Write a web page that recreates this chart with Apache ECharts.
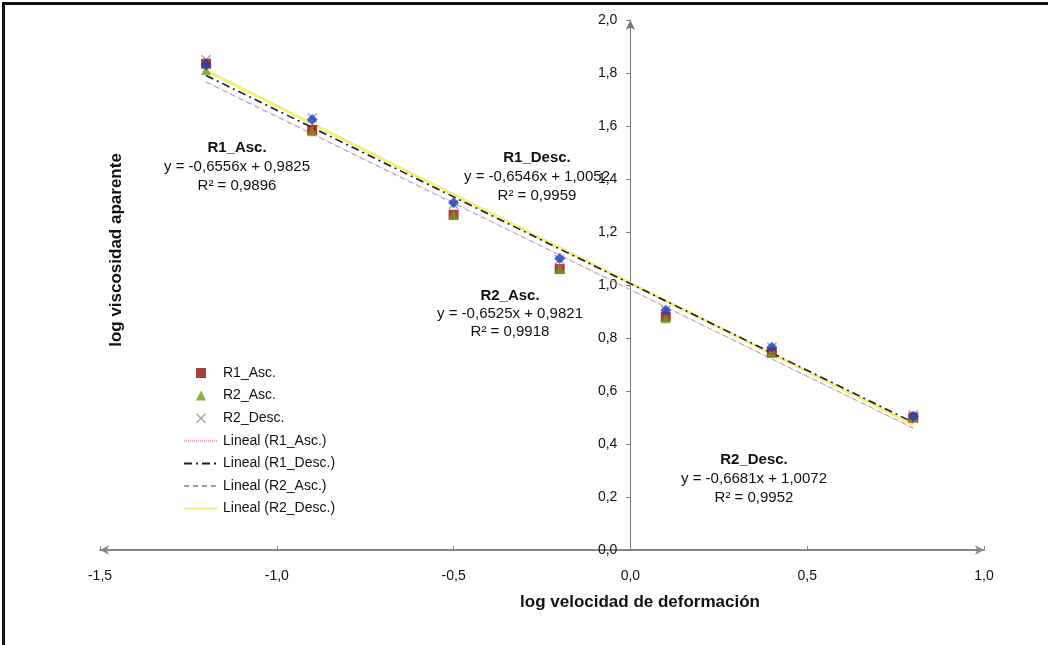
<!DOCTYPE html>
<html>
<head>
<meta charset="utf-8">
<script src="https://cdn.jsdelivr.net/npm/echarts@6/dist/echarts.min.js"></script>
<style>
html,body{margin:0;padding:0;background:#fff;}
#frame{position:absolute;left:2px;top:2px;width:1100px;height:700px;border:3px solid #111;box-sizing:border-box;}
#chart{position:absolute;left:0;top:0;width:1048px;height:645px;}
</style>
</head>
<body>
<div id="chart"></div>
<div id="frame"></div>
<script>
// ---- data ----
const xVals = [-1.2, -0.9, -0.5, -0.2, 0.1, 0.4, 0.8];
const r1Asc  = [1.835, 1.585, 1.265, 1.06, 0.88, 0.745, 0.50];
const r2Asc  = [1.81, 1.58, 1.265, 1.06, 0.875, 0.745, 0.50];
const r1Desc = [1.83, 1.625, 1.31, 1.10, 0.905, 0.765, 0.505];
const r2Desc = [1.85, 1.63, 1.305, 1.095, 0.905, 0.765, 0.51];
// trend line endpoints (from the displayed equations, at x=-1.2 and x=0.8)
const trendX = [-1.2, 0.8];
const trendR1Asc  = [1.7692, 0.4580];
const trendR1Desc = [1.7907, 0.4815];
const trendR2Asc  = [1.7651, 0.4601];
const trendR2Desc = [1.8089, 0.4727];
const xRange = [-1.5, 1.0];
const yRange = [0, 2.0];
const xStep = 0.5;
const yStep = 0.2;

const pairs = (xs, ys) => xs.map((x, i) => [x, ys[i]]);
const fmt = v => v.toFixed(1).replace('.', ',');
const FONT = '"Liberation Sans", Arial, sans-serif';
const XSYM = 'path://M0,1L1,0L5,4L9,0L10,1L6,5L10,9L9,10L5,6L1,10L0,9L4,5Z';
const SQ = 'path://M0,0L10,0L10,10L0,10Z';
const TRI = 'path://M5,0L10,10L0,10Z';

const GL = 100, GR = 64, GT = 20, GB = 95, W = 1048;
const zeroX = GL + (W - GL - GR) * (0 - xRange[0]) / (xRange[1] - xRange[0]);

const chart = echarts.init(document.getElementById('chart'));
const noLine = {opacity: 0};
chart.setOption({
  animation: false,
  backgroundColor: '#fff',
  textStyle: {fontFamily: FONT},
  grid: [
    {left: GL, right: GR, top: GT, bottom: GB, containLabel: false},
    {left: zeroX, width: 1, top: GT, bottom: GB, containLabel: false}
  ],
  xAxis: [{
    type: 'value', gridIndex: 0, min: xRange[0], max: xRange[1], interval: xStep,
    axisLine: {show: true, onZero: false, symbol: ['arrow', 'arrow'], symbolSize: [7, 9],
      lineStyle: {color: '#888', width: 2}},
    axisTick: {show: true, inside: true, length: 4, lineStyle: {color: '#888'}},
    splitLine: {show: false},
    axisLabel: {color: '#111', fontSize: 14, margin: 19, fontFamily: FONT, formatter: v => fmt(v)}
  }, {
    type: 'value', gridIndex: 1, min: 0, max: 1, show: false
  }],
  yAxis: [{
    type: 'value', gridIndex: 0, min: yRange[0], max: yRange[1], interval: yStep, show: false
  }, {
    type: 'value', gridIndex: 1, min: yRange[0], max: yRange[1], interval: yStep, position: 'left',
    axisLine: {show: true, onZero: false, symbol: ['none', 'arrow'], symbolSize: [7, 10],
      lineStyle: {color: '#777', width: 1}},
    axisTick: {show: true, length: 4, lineStyle: {color: '#777'}},
    splitLine: {show: false},
    axisLabel: {color: '#111', fontSize: 14, margin: 13, fontFamily: FONT, formatter: v => fmt(v)}
  }],
  legend: {
    orient: 'vertical', left: 178, top: 361, itemWidth: 34, itemHeight: 10, itemGap: 8.6,
    textStyle: {fontSize: 14, color: '#111', fontFamily: FONT},
    data: [
      {name: 'R1_Asc.', icon: SQ},
      {name: 'R2_Asc.', icon: TRI},
      {name: 'R2_Desc.', icon: XSYM},
      {name: 'Lineal (R1_Asc.)', itemStyle: noLine},
      {name: 'Lineal (R1_Desc.)', itemStyle: noLine},
      {name: 'Lineal (R2_Asc.)', itemStyle: noLine},
      {name: 'Lineal (R2_Desc.)', itemStyle: noLine}
    ]
  },
  series: [
    {name: 'Lineal (R2_Desc.)', type: 'line', data: pairs(trendX, trendR2Desc), symbol: 'none', z: 1,
      lineStyle: {color: '#f2f07a', width: 3, type: 'solid'}, itemStyle: {color: '#f2f07a'}},
    {name: 'Lineal (R2_Asc.)', type: 'line', data: pairs(trendX, trendR2Asc), symbol: 'none', z: 2,
      lineStyle: {color: '#9a9ab8', width: 1, type: [5, 4]}, itemStyle: {color: '#9a9ab8'}},
    {name: 'Lineal (R1_Asc.)', type: 'line', data: pairs(trendX, trendR1Asc), symbol: 'none', z: 2,
      lineStyle: {color: '#e8a0a8', width: 1, type: [1, 1]}, itemStyle: {color: '#e8a0a8'}},
    {name: 'Lineal (R1_Desc.)', type: 'line', data: pairs(trendX, trendR1Desc), symbol: 'none', z: 3,
      lineStyle: {color: '#1a1a2a', width: 1.6, type: [8, 4, 2, 4]}, itemStyle: {color: '#1a1a2a'}},
    {name: 'R2_Desc.', type: 'scatter', data: pairs(xVals, r2Desc), symbol: XSYM, symbolSize: 10, z: 4,
      itemStyle: {color: '#8c8c9a'}},
    {name: 'R1_Asc.', type: 'scatter', data: pairs(xVals, r1Asc), symbol: 'rect', symbolSize: 10, z: 5,
      itemStyle: {color: '#9b0b0b'}},
    {name: 'R2_Asc.', type: 'scatter', data: pairs(xVals, r2Asc), symbol: 'triangle', symbolSize: 10, z: 6,
      itemStyle: {color: '#6f9a1c'}},
    {name: 'R1_Desc.', type: 'scatter', data: pairs(xVals, r1Desc), symbol: 'diamond', symbolSize: 11, z: 7,
      itemStyle: {color: '#1f3fb8'}}
  ],
  graphic: [
    {type: 'text', x: 640, y: 594, style: {text: 'log velocidad de deformación', align: 'center', font: 'bold 17px ' + FONT, fill: '#111'}},
    {type: 'text', x: 108, y: 250, rotation: Math.PI / 2, style: {text: 'log viscosidad aparente', align: 'center', font: 'bold 17px ' + FONT, fill: '#111'}},
    {type: 'text', x: 237, y: 138, style: {text: '{b|R1_Asc.}\ny = -0,6556x + 0,9825\nR² = 0,9896', align: 'center', font: '15px ' + FONT, fill: '#111', lineHeight: 19,
      rich: {b: {font: 'bold 15px ' + FONT, fill: '#111', lineHeight: 19}}}},
    {type: 'text', x: 537, y: 148, style: {text: '{b|R1_Desc.}\ny = -0,6546x + 1,0052\nR² = 0,9959', align: 'center', font: '15px ' + FONT, fill: '#111', lineHeight: 19,
      rich: {b: {font: 'bold 15px ' + FONT, fill: '#111', lineHeight: 19}}}},
    {type: 'text', x: 510, y: 287, style: {text: '{b|R2_Asc.}\ny = -0,6525x + 0,9821\nR² = 0,9918', align: 'center', font: '15px ' + FONT, fill: '#111', lineHeight: 18,
      rich: {b: {font: 'bold 15px ' + FONT, fill: '#111', lineHeight: 18}}}},
    {type: 'text', x: 754, y: 450, style: {text: '{b|R2_Desc.}\ny = -0,6681x + 1,0072\nR² = 0,9952', align: 'center', font: '15px ' + FONT, fill: '#111', lineHeight: 19,
      rich: {b: {font: 'bold 15px ' + FONT, fill: '#111', lineHeight: 19}}}}
  ]
});
</script>
</body>
</html>
